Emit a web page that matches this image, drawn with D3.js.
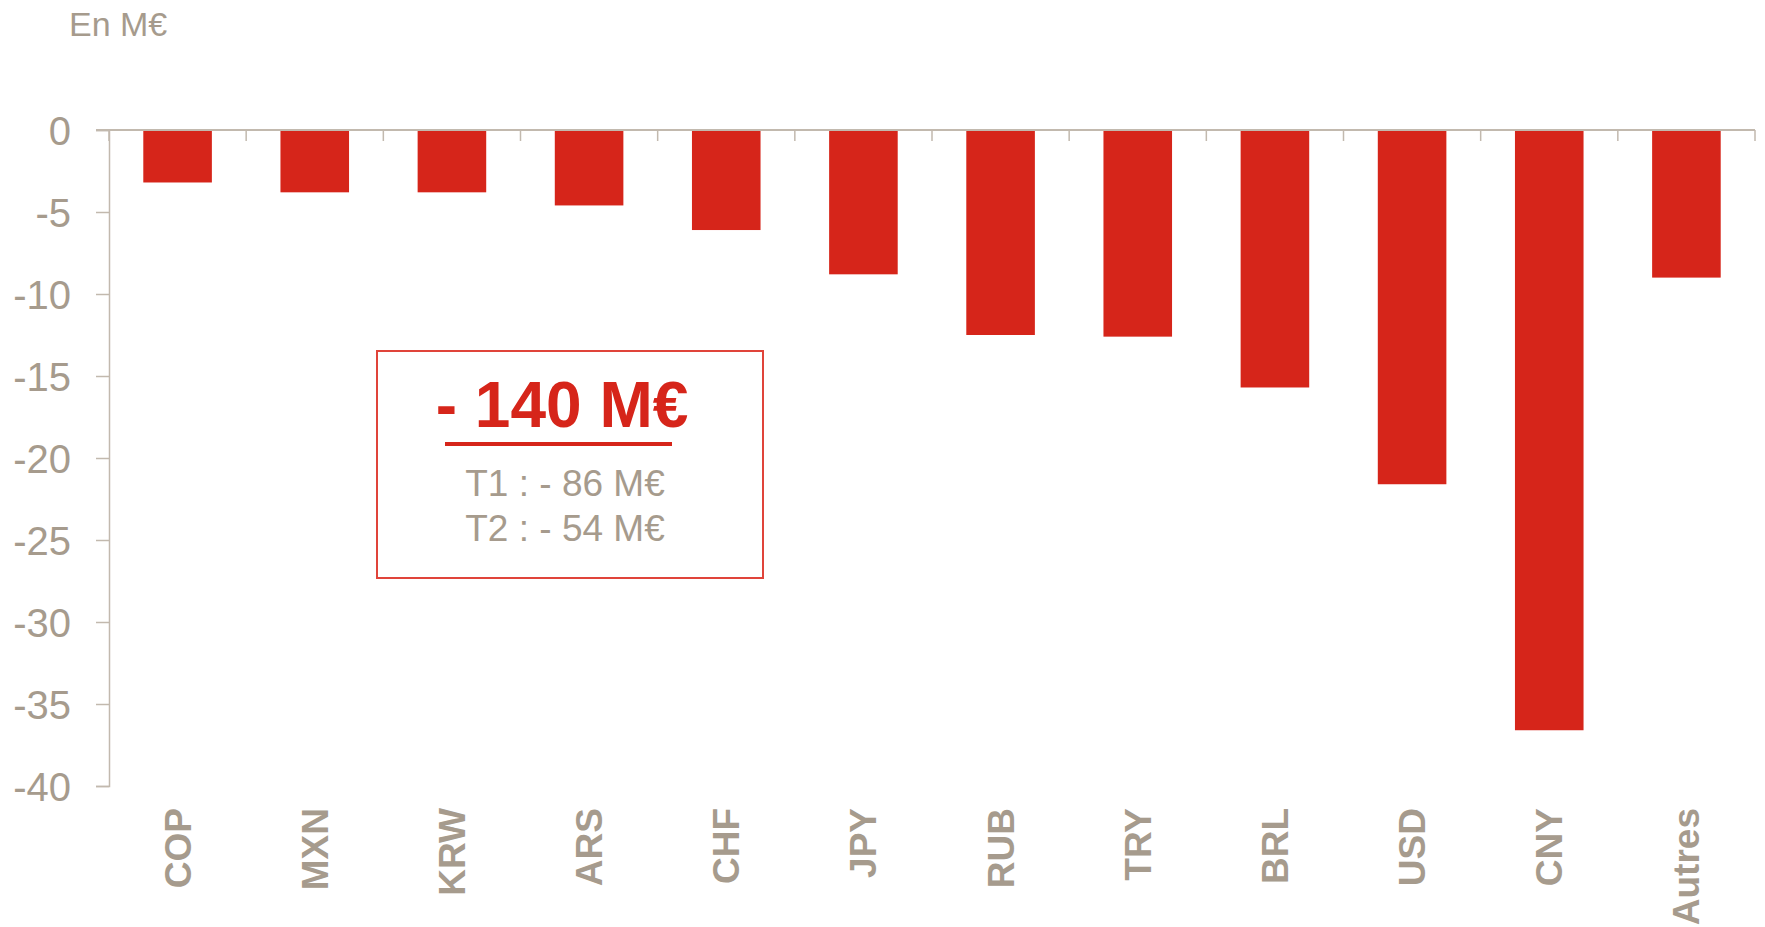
<!DOCTYPE html>
<html>
<head>
<meta charset="utf-8">
<script src="https://cdn.jsdelivr.net/npm/d3@7"></script>
<style>
  html, body { margin: 0; padding: 0; background: #fff; }
  svg { display: block; font-family: "Liberation Sans", Arial, sans-serif; }
</style>
</head>
<body>
<svg id="chart" width="1765" height="927"></svg>
<script>
const categories = ["COP", "MXN", "KRW", "ARS", "CHF", "JPY", "RUB", "TRY", "BRL", "USD", "CNY", "Autres"];
const values = [-3.2, -3.8, -3.8, -4.6, -6.1, -8.8, -12.5, -12.6, -15.7, -21.6, -36.6, -9.0];
const yTicks = [0, -5, -10, -15, -20, -25, -30, -35, -40];
const unitLabel = "En M€";
const totalLabel = "- 140 M€";
const detailLabels = ["T1 : - 86 M€", "T2 : - 54 M€"];

const RED = "#d6251a";
const GRAY = "#a69b8d";
const AXIS = "#c2b9ae";

const svg = d3.select("#chart");

const x = d3.scaleBand().domain(categories).range([109, 1755]).paddingInner(0.5).paddingOuter(0.25);
const y = d3.scaleLinear().domain([0, -40]).range([130, 786]);

// unit title
svg.append("text").attr("x", 69).attr("y", 36)
  .attr("font-size", 34).attr("fill", GRAY).text(unitLabel);

// y axis
const yAxis = d3.axisLeft(y).tickValues(yTicks).tickSize(13).tickPadding(25).tickFormat(d => String(d));
const gy = svg.append("g").attr("transform", "translate(109,0)").call(yAxis);
gy.select(".domain").attr("stroke", AXIS).attr("stroke-width", 1.5);
gy.selectAll(".tick line").attr("stroke", AXIS).attr("stroke-width", 1.5);
gy.selectAll(".tick text").attr("fill", GRAY).attr("font-size", 40)
  .attr("font-family", "'Liberation Sans', Arial, sans-serif").attr("dy", "0.36em");

// bars
svg.append("g").selectAll("rect").data(values).join("rect")
  .attr("x", (d, i) => x(categories[i]))
  .attr("y", y(0))
  .attr("width", x.bandwidth())
  .attr("height", d => y(d) - y(0))
  .attr("fill", RED);

// zero line + category boundary ticks
const step = x.step();
const bnds = d3.range(categories.length + 1).map(i => x.range()[0] + i * step);
svg.append("line").attr("x1", 96).attr("x2", x.range()[1]).attr("y1", y(0)).attr("y2", y(0))
  .attr("stroke", AXIS).attr("stroke-width", 2);
svg.append("g").selectAll("line").data(bnds).join("line")
  .attr("x1", d => d).attr("x2", d => d)
  .attr("y1", y(0)).attr("y2", y(0) + 11)
  .attr("stroke", AXIS).attr("stroke-width", 1.5);

// category labels
svg.append("g").selectAll("text").data(categories).join("text")
  .attr("transform", d => `translate(${x(d) + x.bandwidth() / 2 + 13},808) rotate(-90)`)
  .attr("text-anchor", "end")
  .attr("font-size", 37).attr("font-weight", "bold").attr("fill", GRAY)
  .text(d => d);

// annotation box
const box = svg.append("g");
box.append("rect").attr("x", 377).attr("y", 351).attr("width", 386).attr("height", 227)
  .attr("fill", "#fff").attr("stroke", "#e0443a").attr("stroke-width", 2);
box.append("text").attr("x", 562).attr("y", 427).attr("text-anchor", "middle")
  .attr("font-size", 64).attr("font-weight", "bold").attr("fill", RED).text(totalLabel);
box.append("line").attr("x1", 445).attr("x2", 672).attr("y1", 444).attr("y2", 444)
  .attr("stroke", RED).attr("stroke-width", 4);
box.selectAll("text.detail").data(detailLabels).join("text").attr("class", "detail")
  .attr("x", 565).attr("y", (d, i) => 496 + i * 45).attr("text-anchor", "middle")
  .attr("font-size", 37).attr("fill", GRAY).text(d => d);
</script>
</body>
</html>
